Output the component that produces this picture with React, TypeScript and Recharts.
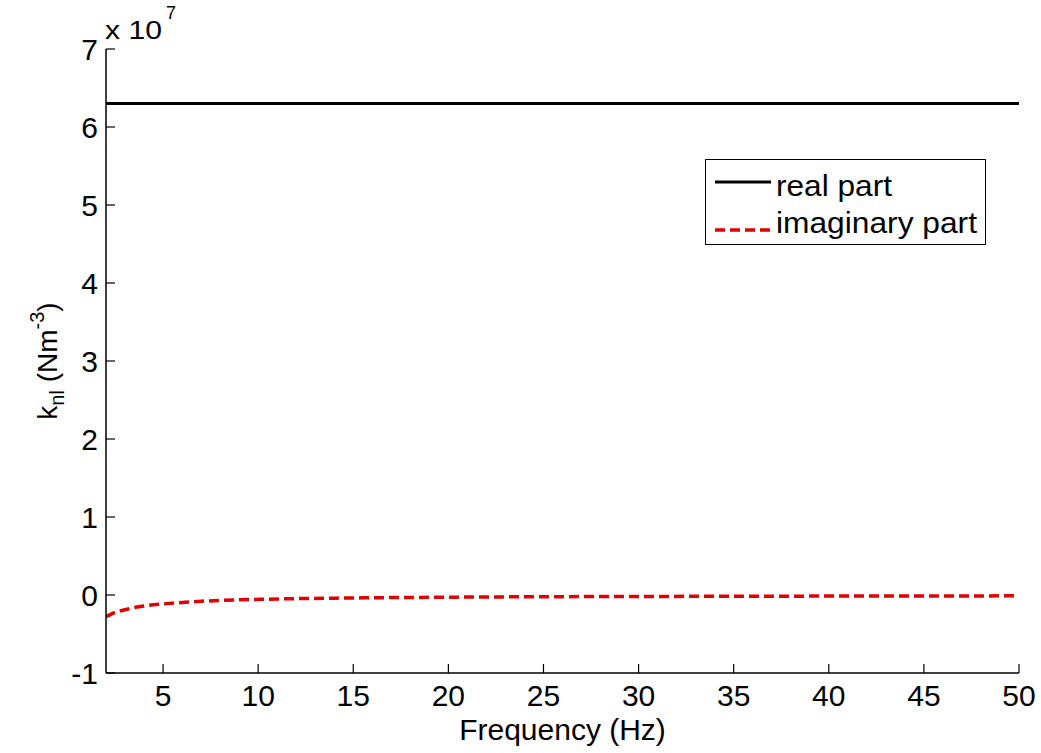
import { LineChart, Line, XAxis, YAxis, Legend } from "recharts";

// frequency samples (Hz)
const freq = [2, 2.5, 3, 3.5, 4, 5, 6, 7, 8, 10, 12, 15, 20, 25, 30, 35, 40, 45, 50];
// k_nl real part (Nm^-3)
const realPart = [
  6.3e7, 6.3e7, 6.3e7, 6.3e7, 6.3e7, 6.3e7, 6.3e7, 6.3e7, 6.3e7, 6.3e7,
  6.3e7, 6.3e7, 6.3e7, 6.3e7, 6.3e7, 6.3e7, 6.3e7, 6.3e7, 6.3e7,
];
// k_nl imaginary part (Nm^-3)
const imagPart = [
  -0.28e7, -0.22e7, -0.19e7, -0.16e7, -0.14e7, -0.115e7, -0.095e7, -0.08e7, -0.07e7, -0.056e7,
  -0.047e7, -0.038e7, -0.028e7, -0.022e7, -0.019e7, -0.016e7, -0.014e7, -0.012e7, -0.011e7,
];
const xTicks = [5, 10, 15, 20, 25, 30, 35, 40, 45, 50];
const yTicks = [-1e7, 0, 1e7, 2e7, 3e7, 4e7, 5e7, 6e7, 7e7];

const FONT = "Arial, 'Liberation Sans', Helvetica, sans-serif";

const data = freq.map((f, i) => ({ f, real: realPart[i], imag: imagPart[i] }));

const tickStyle = { fill: "#000", fontSize: 30, fontFamily: FONT };

const YLabel = ({ viewBox }: any) => {
  const cx = 57;
  const cy = viewBox.y + viewBox.height / 2;
  const right = viewBox.x + viewBox.width;
  return (
    <g>
      <text
        x={cx}
        y={cy}
        transform={`rotate(-90 ${cx} ${cy})`}
        textAnchor="middle"
        fontFamily={FONT}
        fontSize={28}
        fill="#000"
      >
        k
        <tspan fontSize={20} dy={7}>nl</tspan>
        <tspan dy={-7}> (Nm</tspan>
        <tspan fontSize={20} dy={-13}>-3</tspan>
        <tspan dy={13}>)</tspan>
      </text>
      <text
        x={right - 1}
        y={viewBox.y - 10}
        fontFamily={FONT}
        fontSize={25}
        fill="#000"
        textLength={57}
        lengthAdjust="spacingAndGlyphs"
      >
        x 10
      </text>
      <text x={right + 60} y={viewBox.y - 30} fontFamily={FONT} fontSize={18} fill="#000">
        7
      </text>
    </g>
  );
};

const LegendBox = () => (
  <div
    style={{
      width: 281,
      height: 86,
      border: "1px solid #000",
      background: "#fff",
      boxSizing: "border-box",
    }}
  >
    <svg width={279} height={84} style={{ display: "block", overflow: "visible" }}>
      <line x1={9} x2={65} y1={22} y2={22} stroke="#000" strokeWidth={3} />
      <text x={70} y={36} fontFamily={FONT} fontSize={29} textLength={116} lengthAdjust="spacingAndGlyphs">
        real part
      </text>
      <line x1={9} x2={65} y1={70} y2={70} stroke="#e00000" strokeWidth={3.5} strokeDasharray="10 5" />
      <text x={70} y={73} fontFamily={FONT} fontSize={29} textLength={201} lengthAdjust="spacingAndGlyphs">
        imaginary part
      </text>
    </svg>
  </div>
);

export default function App() {
  return (
    <div style={{ position: "absolute", left: 0, top: 0, background: "#fff" }}>
      <LineChart
        width={1041}
        height={753}
        data={data}
        margin={{ top: 49, right: 22, bottom: 0, left: 0 }}
      >
        <XAxis
          dataKey="f"
          type="number"
          domain={[2, 50]}
          ticks={xTicks}
          allowDataOverflow
          height={80}
          tick={tickStyle}
          tickSize={-9}
          tickMargin={21}
          axisLine={{ stroke: "#000", strokeWidth: 1.5 }}
          tickLine={{ stroke: "#000", strokeWidth: 1.2 }}
          label={{
            value: "Frequency (Hz)",
            position: "insideBottom",
            offset: 13,
            fill: "#000",
            fontSize: 30,
            fontFamily: FONT,
          }}
        />
        <XAxis
          xAxisId="top"
          orientation="top"
          dataKey="f"
          type="number"
          domain={[2, 50]}
          ticks={xTicks}
          allowDataOverflow
          height={0}
          tick={false}
          tickSize={-9}
          axisLine={{ stroke: "#000", strokeWidth: 1.5 }}
          tickLine={{ stroke: "#000", strokeWidth: 1.2 }}
        />
        <YAxis
          type="number"
          domain={[-1e7, 7e7]}
          ticks={yTicks}
          allowDataOverflow
          width={106}
          tick={tickStyle}
          tickSize={-9}
          tickMargin={17}
          tickFormatter={(v: number) => String(Math.round(v / 1e7))}
          axisLine={{ stroke: "#000", strokeWidth: 1.5 }}
          tickLine={{ stroke: "#000", strokeWidth: 1.2 }}
          label={<YLabel />}
        />
        <YAxis
          yAxisId="right"
          orientation="right"
          type="number"
          domain={[-1e7, 7e7]}
          ticks={yTicks}
          allowDataOverflow
          width={0}
          tick={false}
          tickSize={-9}
          axisLine={{ stroke: "#000", strokeWidth: 1.5 }}
          tickLine={{ stroke: "#000", strokeWidth: 1.2 }}
        />
        <Legend
          content={<LegendBox />}
          layout="vertical"
          align="center"
          verticalAlign="middle"
          wrapperStyle={{ left: 705, top: 159, width: 281 }}
        />
        <Line
          dataKey="real"
          stroke="#000"
          strokeWidth={3}
          dot={false}
          isAnimationActive={false}
          name="real part"
        />
        <Line
          dataKey="imag"
          stroke="#e00000"
          strokeWidth={3.5}
          strokeDasharray="10 5"
          dot={false}
          type="monotone"
          isAnimationActive={false}
          name="imaginary part"
        />
      </LineChart>
    </div>
  );
}
